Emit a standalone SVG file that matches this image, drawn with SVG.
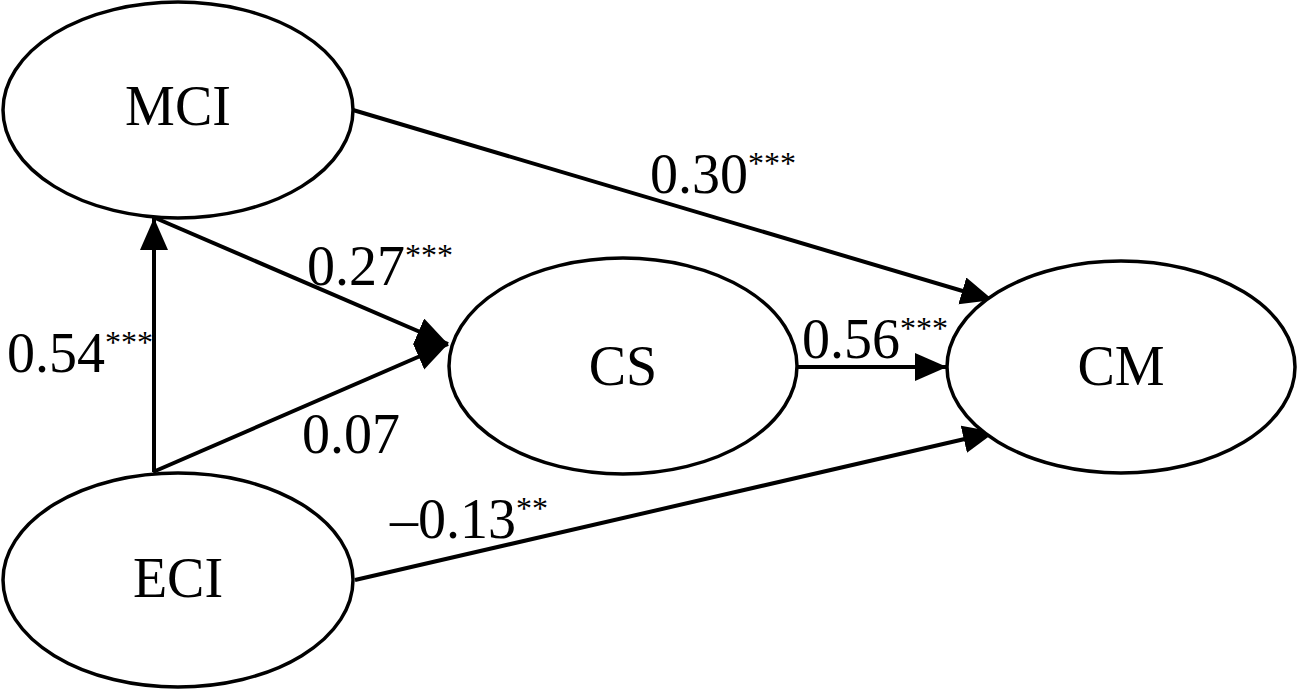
<svg xmlns="http://www.w3.org/2000/svg" width="1299" height="694" viewBox="0 0 1299 694">
<style>
.node{fill:#fff;stroke:#000;stroke-width:3.5}
.lbl{font-family:"Liberation Serif","Times New Roman",serif;font-size:56px;fill:#000}
.sup{font-size:32px}
.edge{stroke:#000;stroke-width:4;fill:none;marker-end:url(#ah)}
</style>
<defs>
<marker id="ah" markerUnits="userSpaceOnUse" markerWidth="34" markerHeight="30" refX="32" refY="14" orient="auto" viewBox="0 0 34 30">
<path d="M0,0 L32,14 L0,28 z" fill="#000"/>
</marker>
</defs>
<rect width="1299" height="694" fill="#fff"/>
<g id="connectors">
<line class="edge" x1="353" y1="110" x2="993" y2="300"/>
<line class="edge" x1="153" y1="217" x2="448" y2="344"/>
<line class="edge" x1="153" y1="472" x2="448" y2="344"/>
<line class="edge" x1="154" y1="472" x2="154" y2="218"/>
<line class="edge" x1="797" y1="367" x2="947" y2="367"/>
<line class="edge" x1="355" y1="580" x2="995" y2="432"/>
</g>
<g id="MCI"><ellipse class="node" cx="178" cy="110" rx="175" ry="108"/><text class="lbl" x="178" y="125" text-anchor="middle">MCI</text></g>
<g id="ECI"><ellipse class="node" cx="178" cy="580" rx="175" ry="107"/><text class="lbl" x="178" y="597" text-anchor="middle">ECI</text></g>
<g id="CS"><ellipse class="node" cx="623" cy="366" rx="174" ry="108"/><text class="lbl" x="623" y="385" text-anchor="middle">CS</text></g>
<g id="CM"><ellipse class="node" cx="1121" cy="367" rx="174" ry="106"/><text class="lbl" x="1121" y="385" text-anchor="middle">CM</text></g>
<g id="labels">
<text class="lbl" x="650" y="193">0.30<tspan class="sup" dy="-19">***</tspan></text>
<text class="lbl" x="307" y="285">0.27<tspan class="sup" dy="-19">***</tspan></text>
<text class="lbl" x="7" y="372">0.54<tspan class="sup" dy="-19">***</tspan></text>
<text class="lbl" x="802" y="358">0.56<tspan class="sup" dy="-19">***</tspan></text>
<text class="lbl" x="302" y="453">0.07</text>
<text class="lbl" x="390" y="538">–0.13<tspan class="sup" dy="-19">**</tspan></text>
</g>
</svg>
